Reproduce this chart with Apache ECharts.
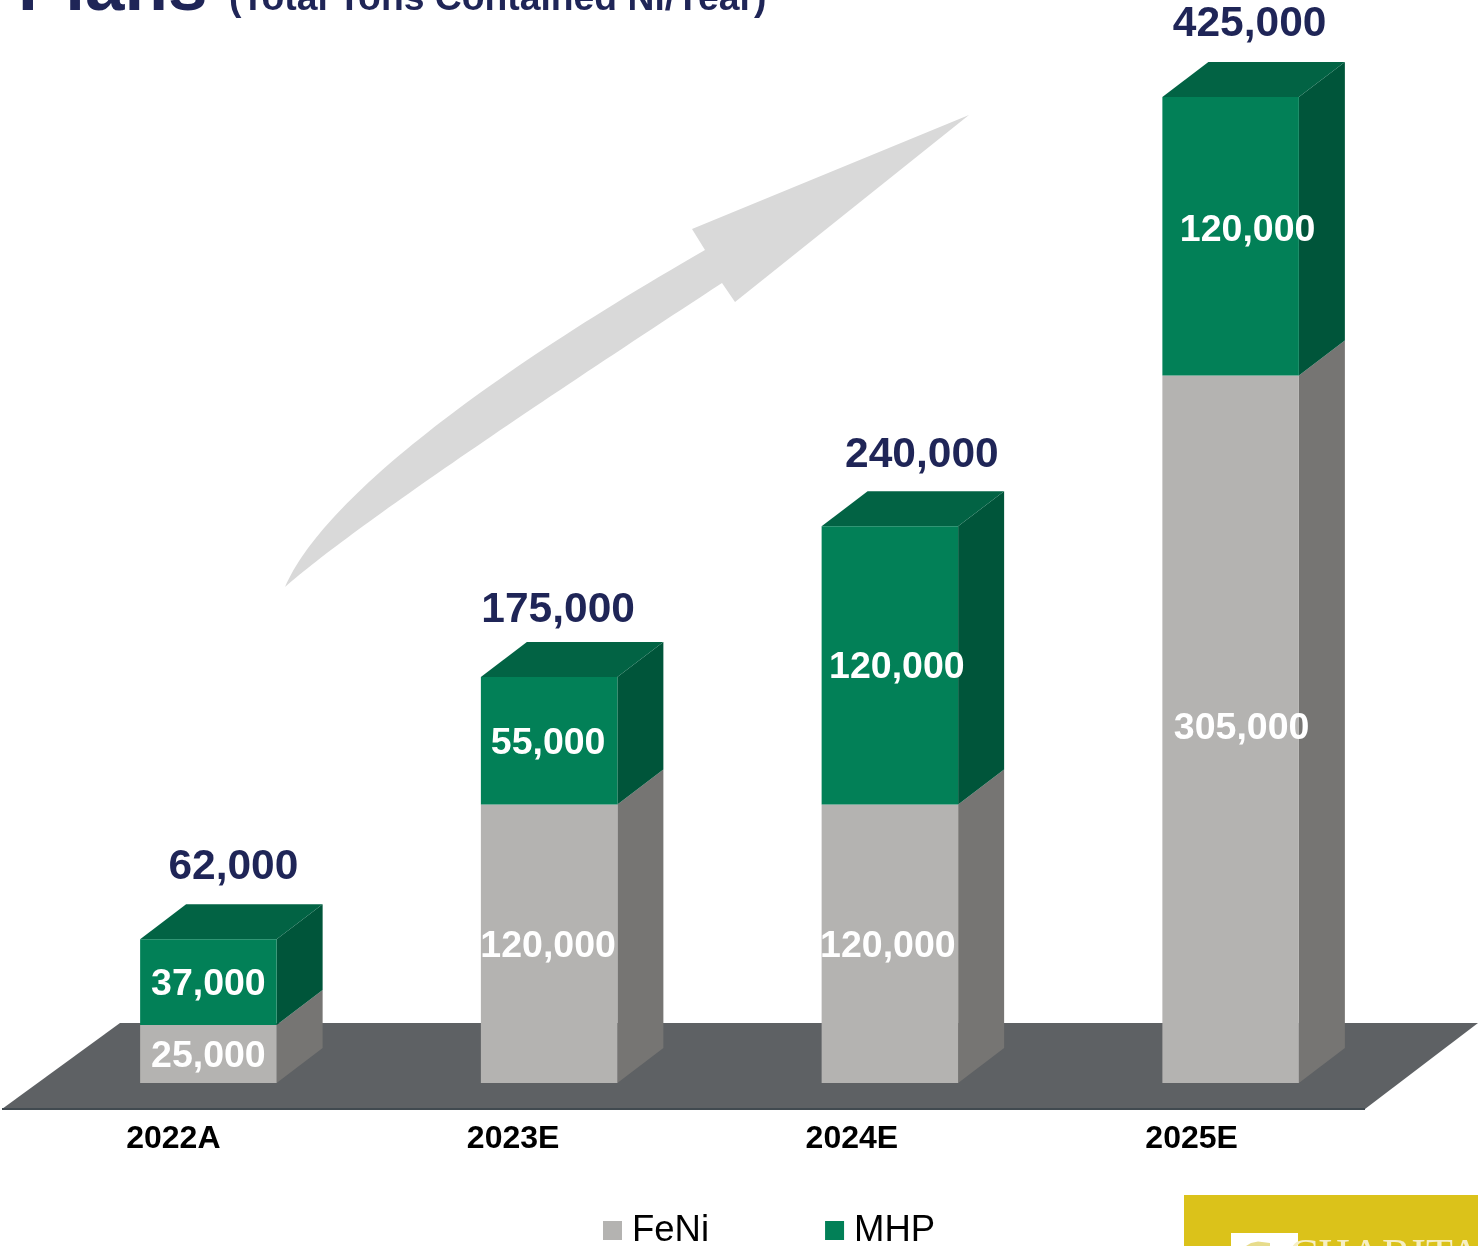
<!DOCTYPE html>
<html>
<head>
<meta charset="utf-8">
<style>html,body{margin:0;padding:0;background:#fff}#c{width:1478px;height:1246px}</style>
<script src="https://cdn.jsdelivr.net/npm/echarts@6/dist/echarts.min.js"></script>
</head>
<body>
<div id="c"></div>
<script>
const categories = ['2022A', '2023E', '2024E', '2025E'];
const feni = [25000, 120000, 120000, 305000];
const mhp = [37000, 55000, 120000, 120000];
const totals = [62000, 175000, 240000, 425000];

// label nudges in pixels, kept apart from the values
const feniNudge = [[0, 3], [-1, 3], [-2, 3], [11, -1]];
const mhpNudge = [[0, 3], [-1, 3], [7, 2], [17, -6]];
const totalNudge = [[25, -72], [9, -67], [32, -71], [19, -73]];
const categoryShift = [70, 72, 76, 78];

const FONT = '"Liberation Sans", Arial, sans-serif';
const BAR_W = 136.5, DX = 46, DY = 35;
const fmt = v => v.toLocaleString('en-US');

// outline of the decorative arrow, built from two cubic curves
function cubic(p0, p1, p2, p3, n) {
  const out = [];
  for (let k = 0; k <= n; k++) {
    const t = k / n, u = 1 - t;
    out.push([0, 1].map(d => u * u * u * p0[d] + 3 * u * u * t * p1[d] + 3 * u * t * t * p2[d] + t * t * t * p3[d]));
  }
  return out;
}
const arrowOutline = [].concat(
  cubic([285, 587], [320, 505], [470, 385], [705, 250], 60),
  [[692, 229], [969, 115], [735, 302]],
  cubic([722, 283], [520, 415], [350, 530], [285, 587], 60)
);
const logoArc = [[1246, 1246], [1251, 1243], [1258, 1241.5], [1270, 1243], [1270, 1246]];

function stackedBar(colors, nudges, withTop) {
  return function (params, api) {
    const i = api.value(0), lo = api.value(1), hi = api.value(2);
    const c = api.coord([i, lo]), t = api.coord([i, hi]);
    const l = c[0] - BAR_W / 2, r = c[0] + BAR_W / 2;
    const ch = [];
    ch.push({ type: 'polygon', shape: { points: [[r, t[1]], [r + DX, t[1] - DY], [r + DX, c[1] - DY], [r, c[1]]] },
      style: { fill: colors.side } });
    if (withTop) {
      ch.push({ type: 'polygon', shape: { points: [[l, t[1]], [l + DX, t[1] - DY], [r + DX, t[1] - DY], [r, t[1]]] },
        style: { fill: colors.top } });
    }
    ch.push({ type: 'rect', shape: { x: l, y: t[1], width: BAR_W, height: c[1] - t[1] }, style: { fill: colors.front } });
    ch.push({ type: 'text', z2: 10, x: c[0] + nudges[i][0], y: (c[1] + t[1]) / 2 + nudges[i][1],
      style: { text: fmt(hi - lo), fill: '#fff', font: 'bold 37.5px ' + FONT, align: 'center', verticalAlign: 'middle' } });
    return { type: 'group', children: ch };
  };
}

const catRich = {};
categoryShift.forEach((s, i) => {
  catRich['c' + i] = { color: '#000', fontFamily: FONT, fontWeight: 'bold', fontSize: 32, padding: [0, s, 0, 0] };
});

const chart = echarts.init(document.getElementById('c'), null, { renderer: 'canvas' });
chart.setOption({
  animation: false,
  backgroundColor: '#ffffff',
  grid: { left: 38, width: 1363, top: 97, bottom: 163, containLabel: false },
  xAxis: {
    type: 'category', data: categories,
    axisLine: { show: false }, axisTick: { show: false }, splitLine: { show: false },
    axisLabel: {
      margin: 40, rich: catRich,
      formatter: (v, i) => '{c' + i + '|' + v + '}'
    }
  },
  yAxis: { type: 'value', min: 0, max: 425000, interval: 85000, show: false },
  legend: {
    left: 603, top: 1212, padding: 0, itemGap: 116, itemWidth: 19, itemHeight: 19, icon: 'rect',
    data: ['FeNi', 'MHP'],
    textStyle: { color: '#000', fontFamily: FONT, fontSize: 36.5, padding: [0, 0, 0, 5] }
  },
  graphic: [
    { type: 'polygon', z: 0, shape: { points: [[2, 1109], [1365, 1109], [1478, 1023], [120, 1023]] },
      style: { fill: '#5e6164' } },
    { type: 'rect', z: 0, shape: { x: 2, y: 1108, width: 1363, height: 2 }, style: { fill: '#414a50' } },
    { type: 'polygon', z: 0, shape: { points: arrowOutline }, style: { fill: '#d9d9d9' } },
    { type: 'text', z: 1, style: { x: 18, y: -45, text: 'Plans', fill: '#1f2557', font: 'bold 71px ' + FONT } },
    { type: 'text', z: 1, style: { x: 229, y: -19, text: '(Total Tons Contained Ni/Year)', fill: '#1f2557', font: 'bold 37.3px ' + FONT } },
    { type: 'rect', z: 1, shape: { x: 1184, y: 1195, width: 294, height: 51 }, style: { fill: '#dbc21a' } },
    { type: 'rect', z: 1, shape: { x: 1231, y: 1233, width: 67, height: 13 }, style: { fill: '#ffffff' } },
    { type: 'polygon', z: 2, shape: { points: logoArc }, style: { fill: '#e7dc8c' } },
    { type: 'text', z: 2, style: { x: 1289, y: 1235, text: 'CHARITAS', fill: '#f6efc4', font: '44px "Liberation Serif", serif' } }
  ],
  series: [
    {
      name: 'FeNi', type: 'custom', z: 3, clip: false, itemStyle: { color: '#b4b3b1' },
      data: feni.map((v, i) => [i, 0, v]),
      encode: { x: 0, y: 2 },
      renderItem: stackedBar({ front: '#b4b3b1', side: '#767573' }, feniNudge, false)
    },
    {
      name: 'MHP', type: 'custom', z: 4, clip: false, itemStyle: { color: '#028057' },
      data: mhp.map((v, i) => [i, feni[i], feni[i] + v]),
      encode: { x: 0, y: 2 },
      renderItem: stackedBar({ front: '#028057', side: '#00553a', top: '#026344' }, mhpNudge, true)
    },
    {
      name: 'Total', type: 'custom', z: 5, clip: false, silent: true,
      data: totals.map((v, i) => [i, v]),
      encode: { x: 0, y: 1 },
      renderItem: function (params, api) {
        const i = api.value(0), v = api.value(1), p = api.coord([i, v]);
        return { type: 'text', x: p[0] + totalNudge[i][0], y: p[1] + totalNudge[i][1],
          style: { text: fmt(v), fill: '#1f2557', font: 'bold 42.5px ' + FONT, align: 'center', verticalAlign: 'middle' } };
      }
    }
  ]
});
</script>
</body>
</html>
